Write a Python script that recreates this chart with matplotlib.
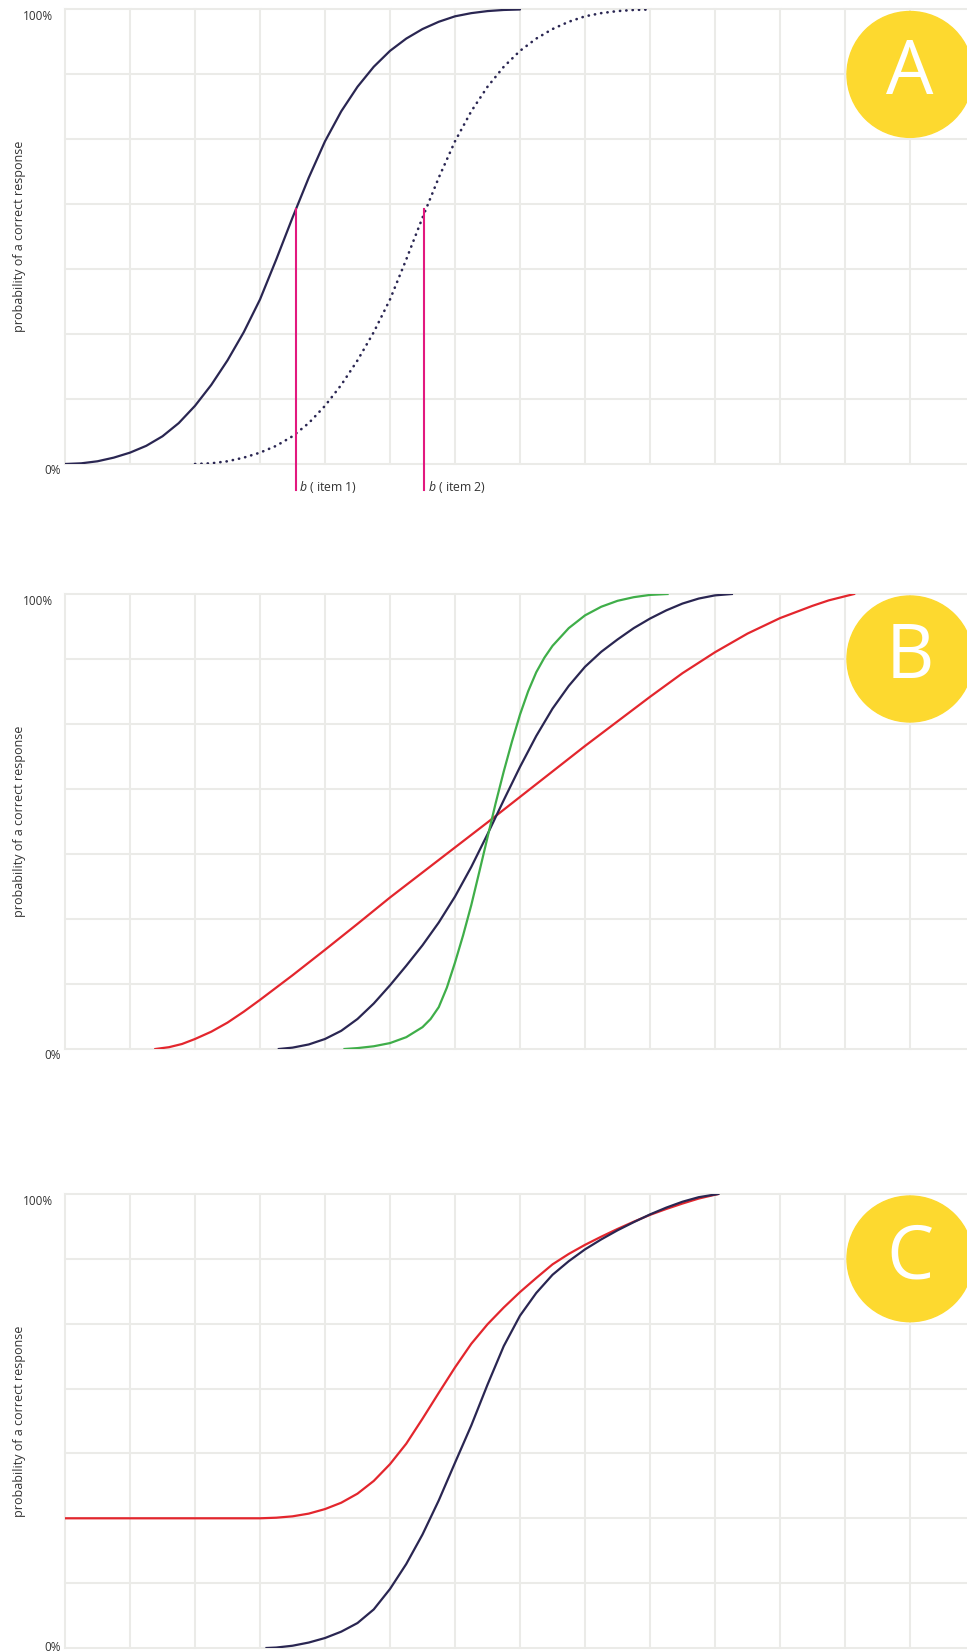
import matplotlib
matplotlib.use("Agg")
import matplotlib.pyplot as plt
from matplotlib.patches import Ellipse

# ------------------------------------------------------------------
# data (x in grid cells, y as probability)
# ------------------------------------------------------------------
# panel A : two items, same slope, different difficulty
a_item1_x = [0, 0.25, 0.5, 0.75, 1, 1.25, 1.5, 1.75, 2, 2.25, 2.5, 2.75, 3, 3.25, 3.5,
             3.75, 4, 4.25, 4.5, 4.75, 5, 5.25, 5.5, 5.75, 6, 6.25, 6.5, 6.75, 7]
a_item1_y = [0, 0.0015, 0.006, 0.014, 0.025, 0.04, 0.061, 0.09, 0.128, 0.174, 0.228, 0.29, 0.362, 0.45, 0.542,
             0.63, 0.71, 0.776, 0.83, 0.874, 0.909, 0.936, 0.957, 0.973, 0.985, 0.992, 0.9965, 0.999, 1.0]
a_item2_x = [2, 2.25, 2.5, 2.75, 3, 3.25, 3.5, 3.75, 4, 4.25, 4.5, 4.75, 5, 5.25, 5.5,
             5.75, 6, 6.25, 6.5, 6.75, 7, 7.25, 7.5, 7.75, 8, 8.25, 8.5, 8.75, 9]
a_item2_y = [0, 0.0015, 0.006, 0.014, 0.025, 0.04, 0.061, 0.09, 0.128, 0.174, 0.228, 0.29, 0.362, 0.45, 0.542,
             0.63, 0.71, 0.776, 0.83, 0.874, 0.909, 0.936, 0.957, 0.973, 0.985, 0.992, 0.9965, 0.999, 1.0]
b_marks = [3.55, 5.53]
b_level = 0.56
b_labels = ["item 1", "item 2"]

# panel B : same difficulty, different discrimination
b_red_x = [1.39, 1.6, 1.8, 2.0, 2.25, 2.5, 2.75, 3, 3.5, 4, 4.5, 5, 5.5, 6, 6.5, 7, 7.5, 8, 8.5,
           9, 9.5, 10, 10.5, 11, 11.5, 11.75, 12.14]
b_red_y = [0, 0.004, 0.011, 0.022, 0.038, 0.058, 0.082, 0.108, 0.162, 0.218, 0.275, 0.333, 0.388, 0.443, 0.498,
           0.554, 0.61, 0.666, 0.72, 0.774, 0.826, 0.872, 0.913, 0.947, 0.974, 0.986, 1.0]
b_navy_x = [3.29, 3.5, 3.75, 4, 4.25, 4.5, 4.75, 5, 5.25, 5.5, 5.75, 6, 6.25, 6.5, 6.75, 7, 7.25,
            7.5, 7.75, 8, 8.25, 8.5, 8.75, 9, 9.25, 9.5, 9.75, 10, 10.26]
b_navy_y = [0, 0.003, 0.01, 0.022, 0.04, 0.066, 0.1, 0.14, 0.183, 0.228, 0.278, 0.335, 0.4, 0.472, 0.547, 0.62, 0.688,
            0.748, 0.798, 0.84, 0.873, 0.9, 0.925, 0.946, 0.964, 0.979, 0.99, 0.997, 1.0]
b_green_x = [4.3, 4.5, 4.75, 5, 5.25, 5.5, 5.625, 5.75, 5.875, 6, 6.125, 6.25, 6.375, 6.5, 6.625,
             6.75, 6.875, 7, 7.125, 7.25, 7.375, 7.5, 7.75, 8, 8.25, 8.5, 8.75, 9, 9.27]
b_green_y = [0, 0.002, 0.006, 0.013, 0.026, 0.048, 0.066, 0.092, 0.135, 0.19, 0.25, 0.316, 0.39, 0.465, 0.54,
             0.61, 0.675, 0.735, 0.786, 0.828, 0.86, 0.886, 0.925, 0.953, 0.972, 0.985, 0.993, 0.998, 1.0]

# panel C : guessing parameter
c_navy_x = [3.1, 3.25, 3.5, 3.75, 4, 4.25, 4.5, 4.75, 5, 5.25, 5.5, 5.75, 6, 6.25, 6.5, 6.75, 7,
            7.25, 7.5, 7.75, 8, 8.25, 8.5, 8.75, 9, 9.25, 9.5, 9.75, 10.05]
c_navy_y = [0, 0.001, 0.005, 0.012, 0.022, 0.036, 0.055, 0.085, 0.13, 0.185, 0.25, 0.325, 0.408, 0.49, 0.58, 0.665, 0.732,
            0.782, 0.822, 0.852, 0.878, 0.9, 0.92, 0.938, 0.955, 0.97, 0.983, 0.993, 1.0]
c_red_x = [0, 3.0, 3.25, 3.5, 3.75, 4, 4.25, 4.5, 4.75, 5, 5.25, 5.5, 5.75, 6, 6.25, 6.5, 6.75,
           7, 7.25, 7.5, 7.75, 8, 8.25, 8.5, 8.75, 9, 9.25, 9.5, 9.75, 10.05]
c_red_y = [0.2857, 0.2857, 0.287, 0.29, 0.296, 0.306, 0.32, 0.34, 0.368, 0.405, 0.45, 0.505, 0.562, 0.618, 0.67, 0.713, 0.75,
           0.784, 0.815, 0.845, 0.868, 0.888, 0.906, 0.923, 0.939, 0.954, 0.967, 0.979, 0.99, 1.0]

panel_letters = ["A", "B", "C"]
ylabel = "probability of a correct response"

# ------------------------------------------------------------------
# style
# ------------------------------------------------------------------
plt.rcParams['font.family'] = ['Open Sans', 'DejaVu Sans']
plt.rcParams['mathtext.fontset'] = 'custom'
plt.rcParams['mathtext.rm'] = 'Open Sans'
plt.rcParams['mathtext.it'] = 'Open Sans:italic'

NAVY = '#2a2652'
RED = '#e3262d'
GREEN = '#3fae49'
PINK = '#e2197f'
YELLOW = '#fdd92f'
GRID = '#ebebe8'
TXT = '#333333'

W, H = 967, 1651
fig = plt.figure(figsize=(W / 100, H / 100), dpi=100)

left_px = 65
cell = 65.0
xmax = (W - left_px) / cell


def add_panel(top, bot, zero_dy=-4.6):
    ax = fig.add_axes([left_px / W, 1 - bot / H, (W - left_px) / W, (bot - top) / H])
    ax.set_xlim(0, xmax)
    ax.set_ylim(0, 1)
    ax.axis('off')
    for k in range(14):
        ax.axvline(k, color=GRID, lw=1.5, zorder=0, clip_on=False)
    for k in range(8):
        ax.axhline(k / 7, color=GRID, lw=1.5, zorder=0, clip_on=False)
    ax.annotate('100%', xy=(0, 1), xycoords=('axes fraction', 'data'),
                xytext=(-8.6, -5.4), textcoords='offset points',
                ha='right', va='center', fontsize=8.5, color=TXT)
    ax.annotate('0%', xy=(0, 0), xycoords=('axes fraction', 'data'),
                xytext=(-2.9, zero_dy), textcoords='offset points',
                ha='right', va='center', fontsize=8.5, color=TXT, annotation_clip=False)
    fig.text(20 / W, 1 - (top + bot) / 2 / H, ylabel, rotation=90,
             ha='center', va='center', fontsize=9, color=TXT)
    return ax


def add_badge(ax, letter):
    r = 63 / cell
    ax.add_patch(Ellipse((13, 6 / 7), 2 * r, 2 * r / 7, color=YELLOW,
                         zorder=5, clip_on=False))
    ax.text(13, 6 / 7, letter, ha='center', va='center', fontsize=54,
            color='white', zorder=6)


# ------------------------------------------------------------------
# panel A
# ------------------------------------------------------------------
axA = add_panel(9.5, 464)
axA.plot(a_item1_x, a_item1_y, color=NAVY, lw=1.6, solid_capstyle='round')
axA.plot(a_item2_x, a_item2_y, color=NAVY, lw=1.9, linestyle=(0, (0.1, 2.3)),
         dash_capstyle='round')
for bx, lab in zip(b_marks, b_labels):
    axA.plot([bx, bx], [-0.057, b_level], color=PINK, lw=1.5, clip_on=False)
    axA.annotate('$b$ ( ' + lab + ')', xy=(bx, 0), xytext=(2.2, -16.5),
                 textcoords='offset points', ha='left', va='center',
                 fontsize=8.8, color=TXT, annotation_clip=False)
add_badge(axA, panel_letters[0])

# ------------------------------------------------------------------
# panel B
# ------------------------------------------------------------------
axB = add_panel(594, 1049)
axB.plot(b_red_x, b_red_y, color=RED, lw=1.6)
axB.plot(b_navy_x, b_navy_y, color=NAVY, lw=1.6)
axB.plot(b_green_x, b_green_y, color=GREEN, lw=1.6)
add_badge(axB, panel_letters[1])

# ------------------------------------------------------------------
# panel C
# ------------------------------------------------------------------
axC = add_panel(1194, 1648, zero_dy=0.5)
axC.plot(c_red_x, c_red_y, color=RED, lw=1.6)
axC.plot(c_navy_x, c_navy_y, color=NAVY, lw=1.6)
add_badge(axC, panel_letters[2])

fig.savefig('out.png', dpi=100, facecolor='white')
